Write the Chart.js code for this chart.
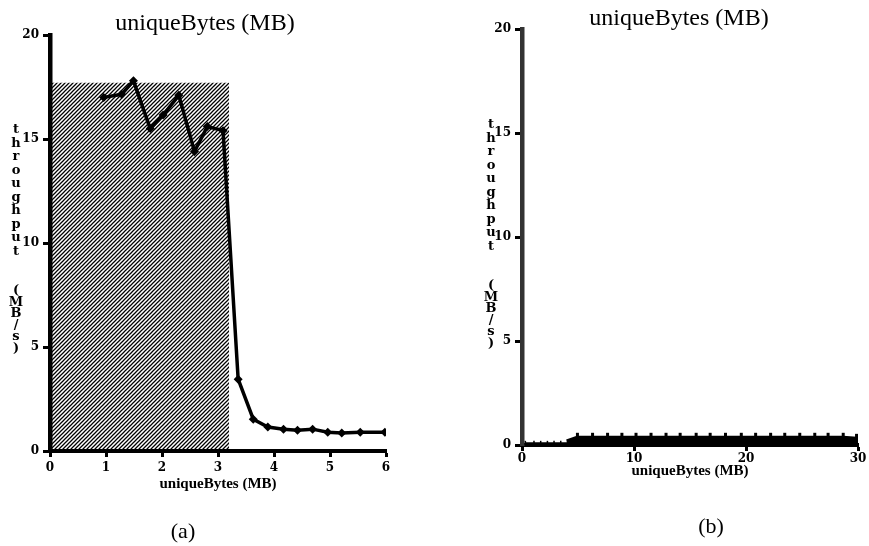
<!DOCTYPE html>
<html>
<head>
<meta charset="utf-8">
<script src="https://cdn.jsdelivr.net/npm/chart.js@4/dist/chart.umd.min.js"></script>
<style>
  html, body { margin: 0; padding: 0; background: #fff; }
  #wrap { position: relative; width: 869px; height: 546px; overflow: hidden; background: #fff; }
  canvas { position: absolute; top: 0; }
  #chartA { left: 0; }
  #chartB { left: 434px; }
</style>
</head>
<body>
<div id="wrap">
  <canvas id="chartA" width="434" height="546"></canvas>
  <canvas id="chartB" width="435" height="546"></canvas>
</div>
<script>
// ---- (a) throughput against uniqueBytes, 0–6 MB ----
const sizesA = [0.96, 1.28, 1.49, 1.79, 2.02, 2.30, 2.58, 2.81, 3.09, 3.36,
                3.63, 3.89, 4.17, 4.42, 4.69, 4.96, 5.21, 5.54, 5.98];
const throughputA = [17.0, 17.15, 17.8, 15.5, 16.15, 17.1, 14.4, 15.6, 15.4, 3.45,
                     1.53, 1.15, 1.05, 1.0, 1.05, 0.9, 0.87, 0.9, 0.9];
// hatched band: sizes that fit in the cache
const shadeSizesA = [0, 3.2];
const shadeLevelA = [17.7, 17.7];

// ---- (b) throughput against uniqueBytes, 0–30 MB ----
const sizesB = [0.3, 1.07, 1.67, 2.27, 2.86, 3.46, 4.06,
                4.95, 6.3, 7.64, 8.92, 10.18, 11.52, 12.86, 14.12, 15.55, 16.8,
                18.17, 19.58, 20.86, 22.2, 23.46, 24.8, 26.14, 27.33, 28.68, 29.87];
const throughputB = [0.08, 0.08, 0.08, 0.08, 0.08, 0.08, 0.08,
                     0.25, 0.25, 0.25, 0.25, 0.25, 0.25, 0.25, 0.25, 0.25, 0.25,
                     0.25, 0.25, 0.25, 0.25, 0.25, 0.25, 0.25, 0.25, 0.25, 0.2];

// ---- tick labels and texts ----
const yTicks = [0, 5, 10, 15, 20];
const xTicksA = [0, 1, 2, 3, 4, 5, 6];
const xTicksB = [0, 10, 20, 30];
const chartTitle = 'uniqueBytes (MB)';
const xTitle = 'uniqueBytes (MB)';
const yTitleWords = ['throughput', '(MB/s)'];
const panelLabels = ['(a)', '(b)'];

const toPoints = (xs, ys) => xs.map((x, i) => ({ x, y: ys[i] }));
// the thin leading run of (b) ends where the larger sizes start
const smallSizeLimitB = 4.5;
const isSmallB = i => sizesB[i] < smallSizeLimitB;

// diagonal "/" hatching used for the shaded band
function hatchPattern() {
  const c = document.createElement('canvas');
  c.width = 4; c.height = 4;
  const g = c.getContext('2d');
  g.strokeStyle = '#000';
  g.lineWidth = 1.25;
  g.beginPath();
  g.moveTo(-1, 5); g.lineTo(5, -1);
  g.moveTo(-1, 1); g.lineTo(1, -1);
  g.moveTo(3, 5); g.lineTo(5, 3);
  g.stroke();
  return g.createPattern(c, 'repeat');
}

// title on top, stacked y-axis caption and the panel letter underneath
const paperText = {
  id: 'paperText',
  afterDraw(chart, args, o) {
    const ctx = chart.ctx;
    ctx.save();
    ctx.fillStyle = '#000';
    ctx.textAlign = 'center';

    ctx.font = '24px "Liberation Serif"';
    ctx.textBaseline = 'alphabetic';
    ctx.fillText(o.title, o.titleX, o.titleY);

    ctx.font = 'bold 13px "DejaVu Serif"';
    ctx.textBaseline = 'middle';
    let y = o.stackY;
    for (const ch of yTitleWords[0]) { ctx.fillText(ch, o.stackX, y); y += 13.5; }
    y = o.stackY + 161;
    for (const ch of yTitleWords[1]) { ctx.fillText(ch, o.stackX, y); y += 11.5; }

    ctx.font = '22px "Liberation Serif"';
    ctx.fillText(o.panel, o.panelX, o.panelY);
    ctx.restore();
  }
};

function axes(xTicks, xMax, xHeight, tickPad, yBorder) {
  return {
    x: {
      type: 'linear', min: 0, max: xMax,
      afterBuildTicks: s => { s.ticks = xTicks.map(v => ({ value: v })); },
      afterFit: s => { s.height = xHeight; },
      border: { display: true, color: '#000', width: 4 },
      grid: { drawOnChartArea: false, color: '#000', tickLength: 6, tickWidth: 3 },
      ticks: { color: '#000', padding: tickPad, font: { family: 'DejaVu Serif', weight: 'bold', size: 12 } },
      title: { display: true, text: xTitle, color: '#000', padding: { top: 4, bottom: 4 },
               font: { family: 'Liberation Serif', weight: 'bold', size: 15 } }
    },
    y: {
      type: 'linear', min: 0, max: 20,
      afterBuildTicks: s => { s.ticks = yTicks.map(v => ({ value: v })); },
      afterFit: s => { s.width = 50; },
      border: { display: true, color: yBorder, width: 4.5 },
      grid: { drawOnChartArea: false, color: '#000', tickLength: 7, tickWidth: 3 },
      ticks: { color: '#000', padding: 4, font: { family: 'DejaVu Serif', weight: 'bold', size: 12 } }
    }
  };
}

const common = {
  responsive: false,
  animation: false,
  events: [],
  plugins: { legend: { display: false }, tooltip: { enabled: false } }
};

new Chart(document.getElementById('chartA'), {
  type: 'line',
  data: {
    datasets: [
      {
        label: 'throughput',
        data: toPoints(sizesA, throughputA),
        borderColor: '#000',
        borderWidth: 3.5,
        tension: 0,
        pointStyle: 'rectRot',
        pointRadius: 4.5,
        pointBorderWidth: 0,
        pointBackgroundColor: '#000',
        pointBorderColor: '#000',
        fill: false,
        order: 1
      },
      {
        label: 'cache region',
        data: toPoints(shadeSizesA, shadeLevelA),
        borderWidth: 0,
        borderColor: 'rgba(0,0,0,0)',
        backgroundColor: hatchPattern(),
        pointRadius: 0,
        fill: 'origin',
        order: 2
      }
    ]
  },
  options: {
    ...common,
    layout: { padding: { left: 0, top: 35, right: 48, bottom: 49 } },
    scales: axes(xTicksA, 6, 46, 4, '#000'),
    plugins: {
      ...common.plugins,
      paperText: { title: chartTitle, titleX: 205, titleY: 30, stackX: 16, stackY: 130,
                   panel: panelLabels[0], panelX: 183, panelY: 532 }
    }
  },
  plugins: [paperText]
});

new Chart(document.getElementById('chartB'), {
  type: 'line',
  data: {
    datasets: [
      {
        label: 'throughput',
        data: toPoints(sizesB, throughputB),
        borderColor: '#000',
        tension: 0,
        borderWidth: 8,
        segment: {
          borderWidth: c => (isSmallB(c.p1DataIndex) ? 2 : 8)
        },
        // short upright stubs mark each measured size
        pointStyle: 'line',
        pointRotation: 90,
        pointRadius: c => (isSmallB(c.dataIndex) ? 2.5 : 7),
        pointBorderWidth: c => (isSmallB(c.dataIndex) ? 1.5 : 3),
        pointBackgroundColor: '#000',
        pointBorderColor: '#000',
        fill: false
      }
    ]
  },
  options: {
    ...common,
    layout: { padding: { left: 38, top: 29, right: 11, bottom: 62 } },
    scales: axes(xTicksB, 30, 39, 1, '#333'),
    plugins: {
      ...common.plugins,
      paperText: { title: chartTitle, titleX: 245, titleY: 25, stackX: 57, stackY: 125,
                   panel: panelLabels[1], panelX: 277, panelY: 527 }
    }
  },
  plugins: [paperText]
});
</script>
</body>
</html>
